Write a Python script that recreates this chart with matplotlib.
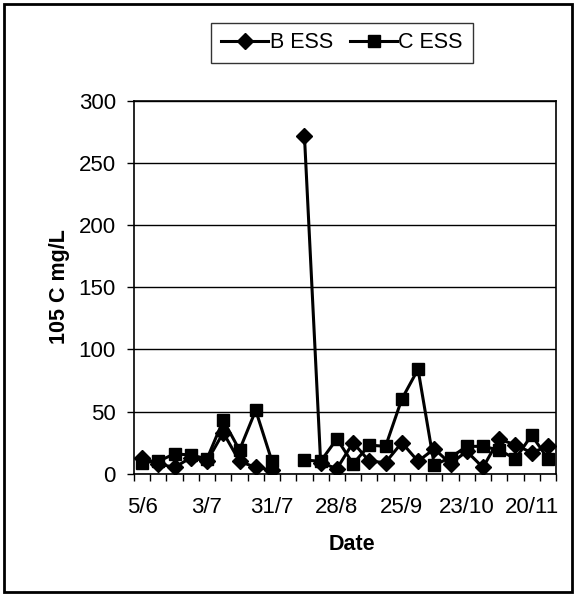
import numpy as np
import matplotlib
matplotlib.use("Agg")
import matplotlib.pyplot as plt
from matplotlib.patches import Rectangle
from matplotlib.ticker import FixedLocator

plt.rcParams['font.family'] = ['Liberation Sans', 'DejaVu Sans']

# weekly sampling dates (day/month)
dates = ['5/6', '12/6', '19/6', '26/6', '3/7', '10/7', '17/7', '24/7', '31/7',
         '7/8', '14/8', '21/8', '28/8', '4/9', '11/9', '18/9', '25/9', '2/10',
         '9/10', '16/10', '23/10', '30/10', '6/11', '13/11', '20/11', '27/11']

# 105 C suspended solids, mg/L (nan = no sample)
b_ess = [13, 8, 5, 13, 10, 33, 10, 5, 3, np.nan, 272, 9, 4, 25, 10, 9, 25, 10,
         20, 8, 18, 5, 28, 23, 17, 22]
c_ess = [9, 10, 16, 15, 12, 43, 19, 51, 10, np.nan, 11, 10, 28, 8, 23, 22, 60, 84,
         7, 13, 22, 22, 19, 12, 31, 12]

x = np.arange(len(dates))

fig = plt.figure(figsize=(5.77, 5.95), dpi=100)
ax = fig.add_axes([134 / 577, 1 - 473.7 / 595, 422 / 577, 373 / 595])

l1, = ax.plot(x, b_ess, color='black', lw=2.2, marker='D', markersize=8,
              label='B ESS')
l2, = ax.plot(x, c_ess, color='black', lw=2.2, marker='s', markersize=8,
              label='C ESS')

ax.set_ylim(0, 300)
ax.set_yticks(range(0, 301, 50))
ax.set_xlim(-0.5, len(dates) - 0.5)

# labels every 4th week, tick marks between categories
ax.set_xticks(x[::4])
ax.set_xticklabels(dates[::4])
ax.xaxis.set_minor_locator(FixedLocator(np.arange(-0.5, len(dates), 1)))
ax.tick_params(axis='x', which='major', length=0, pad=17, labelsize=16)
ax.tick_params(axis='x', which='minor', length=5, direction='out', width=1)
ax.tick_params(axis='y', length=5, direction='out', width=1, pad=8, labelsize=16)

ax.grid(axis='y', color='black', lw=1)
ax.set_axisbelow(True)
for sp in ax.spines.values():
    sp.set_color('black')
    sp.set_linewidth(1.2)

fig.text(60 / 577, 1 - 287 / 595, '105 C mg/L', rotation=90, ha='center',
         va='center', fontsize=15.5, fontweight='bold')
fig.text(352 / 577, 1 - 545 / 595, 'Date', ha='center', va='center',
         fontsize=15.5, fontweight='bold')

leg = fig.legend(handles=[l1, l2], loc='center', bbox_to_anchor=(342 / 577, 1 - 43 / 595),
                 ncol=2, fontsize=15.5, frameon=True, fancybox=False,
                 handlelength=2.2, handletextpad=0.05, columnspacing=0.8,
                 borderpad=0.45, edgecolor='black')
leg.get_frame().set_linewidth(1)

fig.add_artist(Rectangle((4 / 577, 3 / 595), 568 / 577, 588 / 595, transform=fig.transFigure,
                         fill=False, edgecolor='black', lw=2))

fig.savefig('out.png', dpi=100)
